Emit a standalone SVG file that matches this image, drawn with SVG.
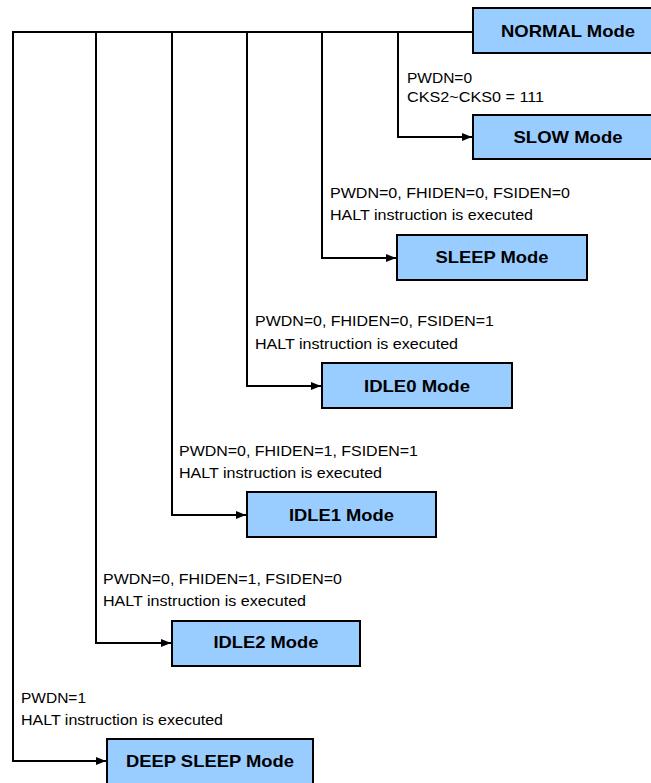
<svg xmlns="http://www.w3.org/2000/svg" width="651" height="783" viewBox="0 0 651 783">
<defs>
<style>
.box{fill:#99CCFF;stroke:#000;stroke-width:2}
.bt{font-family:"Liberation Sans",Arial,sans-serif;font-weight:bold;font-size:17px;fill:#000;text-anchor:middle}
.lb{font-family:"Liberation Sans",Arial,sans-serif;font-size:15.5px;fill:#000}
.ln{fill:none;stroke:#000;stroke-width:2}
</style>
<marker id="ah" markerUnits="userSpaceOnUse" markerWidth="10" markerHeight="8" refX="10" refY="4" orient="auto">
<path d="M0,0 L10,4 L0,8 z" fill="#000"/>
</marker>
</defs>
<rect width="651" height="783" fill="#fff"/>
<g id="connectors">
<path class="ln" d="M13,32 H473"/>
<path class="ln" d="M398,32 V137 H472" marker-end="url(#ah)"/>
<path class="ln" d="M322,32 V258 H396" marker-end="url(#ah)"/>
<path class="ln" d="M247,32 V386 H321" marker-end="url(#ah)"/>
<path class="ln" d="M172,32 V515 H246" marker-end="url(#ah)"/>
<path class="ln" d="M96,32 V643 H171" marker-end="url(#ah)"/>
<path class="ln" d="M13,31 V761 H106" marker-end="url(#ah)"/>
<text class="lb" x="407" y="83">PWDN=0</text>
<text class="lb" x="407" y="102" textLength="137" lengthAdjust="spacingAndGlyphs">CKS2~CKS0 = 111</text>
<text class="lb" x="330" y="198" textLength="240" lengthAdjust="spacingAndGlyphs">PWDN=0, FHIDEN=0, FSIDEN=0</text>
<text class="lb" x="330" y="220" textLength="203" lengthAdjust="spacingAndGlyphs">HALT instruction is executed</text>
<text class="lb" x="255" y="326" textLength="239" lengthAdjust="spacingAndGlyphs">PWDN=0, FHIDEN=0, FSIDEN=1</text>
<text class="lb" x="255" y="349" textLength="203" lengthAdjust="spacingAndGlyphs">HALT instruction is executed</text>
<text class="lb" x="179" y="456" textLength="239" lengthAdjust="spacingAndGlyphs">PWDN=0, FHIDEN=1, FSIDEN=1</text>
<text class="lb" x="179" y="478" textLength="203" lengthAdjust="spacingAndGlyphs">HALT instruction is executed</text>
<text class="lb" x="103" y="584" textLength="239" lengthAdjust="spacingAndGlyphs">PWDN=0, FHIDEN=1, FSIDEN=0</text>
<text class="lb" x="103" y="606" textLength="203" lengthAdjust="spacingAndGlyphs">HALT instruction is executed</text>
<text class="lb" x="21" y="703">PWDN=1</text>
<text class="lb" x="21" y="725" textLength="202" lengthAdjust="spacingAndGlyphs">HALT instruction is executed</text>
</g>
<g id="normal"><rect class="box" x="473" y="8" width="190" height="45"/><text class="bt" x="568" y="37" textLength="134" lengthAdjust="spacingAndGlyphs">NORMAL Mode</text></g>
<g id="slow"><rect class="box" x="473" y="115" width="190" height="44"/><text class="bt" x="568" y="143" textLength="109" lengthAdjust="spacingAndGlyphs">SLOW Mode</text></g>
<g id="sleep"><rect class="box" x="397" y="235" width="190" height="45"/><text class="bt" x="492" y="263" textLength="113" lengthAdjust="spacingAndGlyphs">SLEEP Mode</text></g>
<g id="idle0"><rect class="box" x="322" y="363" width="190" height="45"/><text class="bt" x="417" y="392" textLength="106" lengthAdjust="spacingAndGlyphs">IDLE0 Mode</text></g>
<g id="idle1"><rect class="box" x="247" y="492" width="189" height="45"/><text class="bt" x="341.5" y="521" textLength="105" lengthAdjust="spacingAndGlyphs">IDLE1 Mode</text></g>
<g id="idle2"><rect class="box" x="172" y="621" width="188" height="45"/><text class="bt" x="266" y="648" textLength="105" lengthAdjust="spacingAndGlyphs">IDLE2 Mode</text></g>
<g id="deepsleep"><rect class="box" x="107" y="739" width="206" height="46"/><text class="bt" x="210" y="767" textLength="168" lengthAdjust="spacingAndGlyphs">DEEP SLEEP Mode</text></g>
</svg>
